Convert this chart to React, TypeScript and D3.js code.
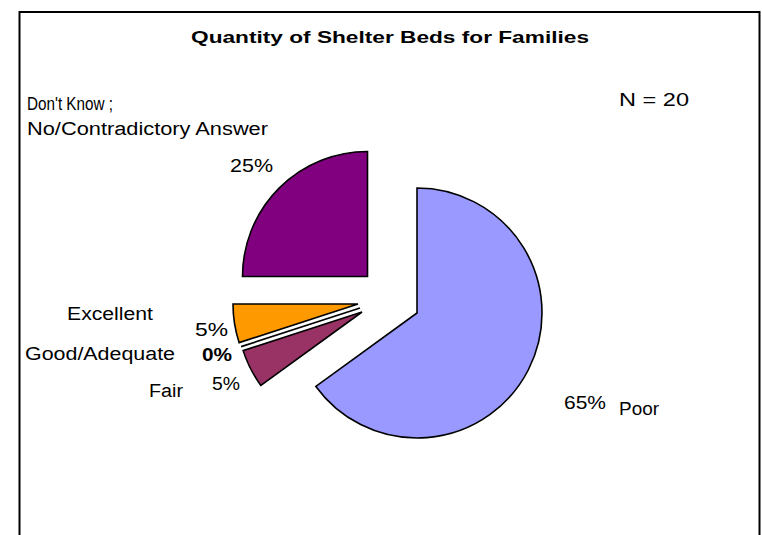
import React from "react";
import * as d3 from "d3";

// ---- data ----
const categories = ["Poor", "Fair", "Good/Adequate", "Excellent", "Don't Know; No/Contradictory Answer"];
const values = [65, 5, 0, 5, 25];
const percentLabels = ["65%", "5%", "0%", "5%", "25%"];
const sampleSizeLabel = "N = 20";
const title = "Quantity of Shelter Beds for Families";

// ---- styling / layout ----
const W = 762;
const H = 535;
const colors = ["#9999FF", "#993366", "#FFFFFF", "#FF9900", "#800080"];
const center = { x: 389, y: 298 };
const radius = 125;
// explosion offset of each slice from the pie centre
const explode: [number, number][] = [
  [28, 15],
  [-27, 14],
  [-29, 10],
  [-31, 6],
  [-21.5, -21.5],
];

type Lbl = { text: string; x: number; y: number; w?: number; size?: number; bold?: boolean };

export default function App() {
  const pie = d3
    .pie<number>()
    .sort(null)
    .value((d) => d)
    .startAngle(0)
    .endAngle(2 * Math.PI);
  const arcs = pie(values);
  const arc = d3.arc<d3.PieArcDatum<number>>().innerRadius(0).outerRadius(radius);

  const labels: Lbl[] = [
    { text: "Don't Know ;", x: 27, y: 110, w: 86 },
    { text: "No/Contradictory Answer", x: 27, y: 135, w: 241 },
    { text: percentLabels[4], x: 230, y: 172, w: 43 },
    { text: sampleSizeLabel, x: 619, y: 106, w: 70 },
    { text: categories[3], x: 67, y: 320, w: 86 },
    { text: percentLabels[3], x: 195, y: 336, w: 33 },
    { text: categories[2], x: 25, y: 360, w: 150 },
    { text: percentLabels[2], x: 202, y: 361, w: 30, bold: true },
    { text: categories[1], x: 149, y: 397, w: 34 },
    { text: percentLabels[1], x: 212, y: 390, w: 28 },
    { text: percentLabels[0], x: 564, y: 409, w: 42 },
    { text: categories[0], x: 619, y: 415, w: 40 },
  ];

  return (
    <svg
      width={W}
      height={H}
      style={{ position: "absolute", left: 0, top: 0, background: "#fff" }}
      fontFamily="'Liberation Sans', Arial, sans-serif"
    >
      <rect x={0} y={0} width={W} height={H} fill="#fff" />
      <rect x={19.5} y={12} width={740} height={600} fill="none" stroke="#000" strokeWidth={2} />
      <text
        x={191}
        y={43}
        fontSize={17}
        fontWeight="bold"
        textLength={398}
        lengthAdjust="spacingAndGlyphs"
      >
        {title}
      </text>
      <g transform={`translate(${center.x},${center.y})`}>
        {arcs.map((a, i) => (
          <path
            key={categories[i]}
            d={arc(a) || ""}
            transform={`translate(${explode[i][0]},${explode[i][1]})`}
            fill={colors[i]}
            stroke="#000"
            strokeWidth={1.6}
            strokeLinejoin="miter"
          />
        ))}
      </g>
      {labels.map((l, i) => (
        <text
          key={i}
          x={l.x}
          y={l.y}
          fontSize={l.size ?? 18}
          fontWeight={l.bold ? "bold" : "normal"}
          textLength={l.w}
          lengthAdjust="spacingAndGlyphs"
          fill="#000"
        >
          {l.text}
        </text>
      ))}
    </svg>
  );
}
